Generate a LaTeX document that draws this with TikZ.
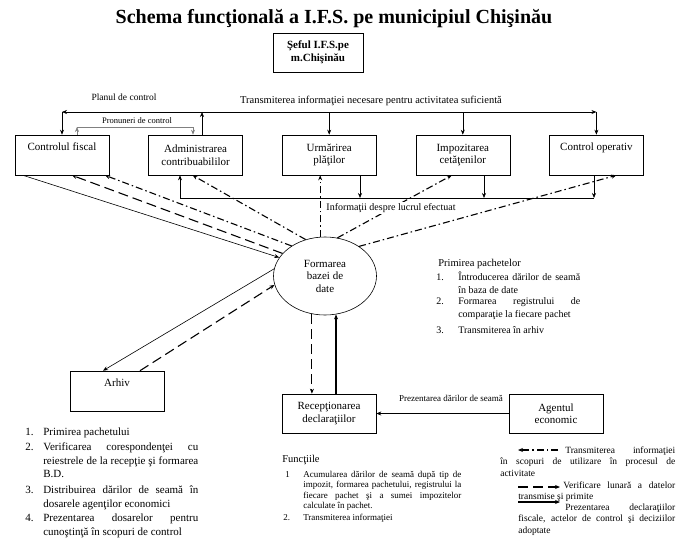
\documentclass[tikz,border=0pt]{standalone}
\usepackage{fontspec}
\setmainfont{Liberation Serif}
\usetikzlibrary{arrows.meta, positioning, shapes.geometric}
\hyphenpenalty=10000
\exhyphenpenalty=10000

\begin{document}
\begin{tikzpicture}[x=1pt, y=-1pt, semithick, >={Stealth[length=5pt, width=4pt]}, node distance=39pt,
  dept/.style={draw, minimum width=94pt, minimum height=40pt, inner sep=1pt, align=center, font=\fontsize{11}{12.5}\selectfont},
  entry/.style={anchor=north west, inner sep=0pt, text width=#1, align=justify, execute at begin node=\strut},
  num/.style={anchor=north west, inner sep=0pt, execute at begin node=\strut},
  lstA/.style={font=\fontsize{11}{13.5}\selectfont},
  lstB/.style={font=\fontsize{10}{12.5}\selectfont},
  lstC/.style={font=\fontsize{9}{10.5}\selectfont},
  lstD/.style={font=\fontsize{9.5}{11.5}\selectfont},
  info/.style={->, line width=1.1pt, dash pattern=on 7pt off 3pt on 1.5pt off 3pt},
  check/.style={->, line width=1.1pt, dash pattern=on 10pt off 5pt},
  submit/.style={->, line width=1.1pt},
  flow/.style={->}]

\useasboundingbox (0,0) rectangle (683,538);

% Title and head of the inspectorate
\node[font=\bfseries\fontsize{20}{24}\selectfont] (title) at (334,19) {Schema funcţională a I.F.S. pe municipiul Chişinău};
\node[draw, minimum width=90pt, minimum height=39pt, align=center, font=\bfseries\fontsize{11}{13}\selectfont] (sef) at (318,52.5) {Şeful I.F.S.pe\\m.Chişinău};

% Subdivisions
\node[dept] (cf) at (62,155) {Controlul fiscal\\ \strut};
\node[dept, right=of cf] (adm) {Administrarea\\contribuabililor};
\node[dept, right=of adm] (urm) {Urmărirea\\plăţilor};
\node[dept, right=of urm] (imp) {Impozitarea\\cetăţenilor};
\node[dept, right=of imp] (co) {Control operativ\\ \strut};

% Top line
\coordinate (busA) at (202,112);
\draw[->] (adm.north -| busA) -- (busA);
\draw[->] (busA) -- (busA -| cf.north);
\draw[->] (busA -| cf.north) -- (cf.north);
\draw[->] (busA) -- (busA -| co.north);
\draw[->] (busA -| co.north) -- (co.north);
\draw[->] (busA -| urm.north) -- (urm.north);
\draw[->] (busA -| imp.north) -- (imp.north);

% Proposals
\coordinate (propL) at (77,127);
\coordinate (propR) at (193,127);
\draw[->, gray] (cf.north -| propL) -- (propL);
\draw[->, gray] (propL) -- (propR) -- (adm.north -| propR);

% Information about the work done
\coordinate (infoL) at (180,198);
\coordinate (infoR) at (594,198);
\coordinate (infoU) at (360,198);
\coordinate (infoI) at (484,198);
\draw (infoL) -- (infoR);
\draw[->] (infoL) -- (adm.south -| infoL);
\draw[->] (urm.south -| infoU) -- (infoU);
\draw[->] (imp.south -| infoI) -- (infoI);
\draw[->] (co.south -| infoR) -- (infoR);

% Database
\node[draw, ellipse, minimum width=103pt, minimum height=78pt, inner sep=0pt, align=center, font=\fontsize{11}{12.5}\selectfont] (db) at (325,276) {Formarea\\bazei de\\date};

% Archive, reception, tax payer
\node[dept] (arh) at (117,391) {Arhiv\\ \strut};
\node[dept, minimum height=39pt] (rec) at (329,413.5) {Recepţionarea\\declaraţiilor};
\node[dept, minimum height=39pt] (ag) at (556,413.5) {Agentul\\economic};

% Information used in the activity
\draw[info] (db.97) -- (db.97 |- urm.south);
\draw[info] (db.72) -- ([xshift=-11pt]imp.south);
\draw[info] (db.41) -- ([xshift=20pt]co.south);
\draw[info] (db.118) -- ([xshift=-3pt]adm.south);
\draw[info] (db.138) -- ([xshift=43pt]cf.south);

% Monthly checks
\draw[check] (db.152) -- ([xshift=10pt]cf.south);
\draw[check] ([xshift=23pt]arh.north) -- (db.190);
\draw[check] (db.251) -- (db.251 |- rec.north);

% Declarations and acts
\draw[flow] ([xshift=-39pt]cf.south) -- (db.158);
\draw[flow] (db.172) -- ([xshift=-14pt]arh.north);
\draw[submit] (db.286 |- rec.north) -- (db.286);
\draw[flow] (ag.west) -- (rec.east);

% Labels of the lines
\node[font=\fontsize{9.5}{11}\selectfont] (plan) at (124,97) {Planul de control};
\node[font=\fontsize{10.5}{12}\selectfont] (trans) at (371,101) {Transmiterea informaţiei necesare pentru activitatea suficientă};
\node[font=\fontsize{8.5}{10}\selectfont, inner sep=1pt] (pron) at (137,121) {Pronuneri de control};
\node[font=\fontsize{10}{12}\selectfont, fill=white, inner sep=1pt] (lucru) at (391,208) {Informaţii despre lucrul efectuat};
\node[font=\fontsize{9}{11}\selectfont] (prez) at (451,398) {Prezentarea dărilor de seamă};

% Receiving the packets
\node[anchor=west, inner sep=0pt, font=\fontsize{10.5}{12}\selectfont] (prim) at (438,264) {Primirea pachetelor};
\node[num, lstB] (p1n) at (436,271.5) {1.};
\node[entry=122pt, lstB] (p1) at (458,271.5) {Întroducerea dărilor de seamă în baza de date};
\node[num, lstB] (p2n) at (436,295.5) {2.};
\node[entry=122pt, lstB] (p2) at (458,295.5) {Formarea registrului de comparaţie la fiecare pachet};
\node[num, lstB] (p3n) at (436,324.5) {3.};
\node[entry=122pt, lstB] (p3) at (458,324.5) {Transmiterea în arhiv};

% Archive tasks
\node[num, lstA] (l1n) at (25,426) {1.};
\node[entry=155pt, lstA] (l1) at (43,426) {Primirea pachetului};
\node[num, lstA] (l2n) at (25,441) {2.};
\node[entry=155pt, lstA] (l2) at (43,441) {Verificarea corespondenţei cu reiestrele de la recepţie şi formarea B.D.};
\node[num, lstA] (l3n) at (25,484) {3.};
\node[entry=155pt, lstA] (l3) at (43,484) {Distribuirea dărilor de seamă în dosarele agenţilor economici};
\node[num, lstA] (l4n) at (25,512) {4.};
\node[entry=155pt, lstA] (l4) at (43,512) {Prezentarea dosarelor pentru cunoştinţă în scopuri de control};

% Functions of the reception
\node[anchor=west, inner sep=0pt, font=\fontsize{10.5}{12}\selectfont] (fn) at (282,460) {Funcţiile};
\node[num, lstC] (f1n) at (285,469.75) {1};
\node[entry=158pt, lstC] (f1) at (303,469.75) {Acumularea dărilor de seamă după tip de\linebreak impozit, formarea pachetului, registrului la\linebreak fiecare pachet şi a sumei impozitelor calculate în pachet.};
\node[num, lstC] (f2n) at (283,513) {2.};
\node[entry=158pt, lstC] (f2) at (303,513) {Transmiterea informaţiei};

% Legend
\coordinate (k1s) at (558,450);
\coordinate (k1e) at (518,450);
\draw[info] (k1s) -- (k1e);
\node[entry=175pt, lstD] (k1) at (500,445) {\hspace*{65pt}Transmiterea informaţiei\linebreak în scopuri de utilizare în procesul de\linebreak activitate};
\coordinate (k2s) at (518,487);
\coordinate (k2e) at (560,487);
\draw[check] (k2s) -- (k2e);
\node[entry=157pt, lstD] (k2) at (518,480) {\hspace*{45pt}Verificare lunară a datelor\linebreak transmise şi primite};
\coordinate (k3s) at (518,502);
\coordinate (k3e) at (560,502);
\draw[submit] (k3s) -- (k3e);
\node[entry=157pt, lstD] (k3) at (518,502) {\hspace*{47pt}Prezentarea declaraţiilor\linebreak fiscale, actelor de control şi deciziilor\linebreak adoptate};

\end{tikzpicture}
\end{document}
